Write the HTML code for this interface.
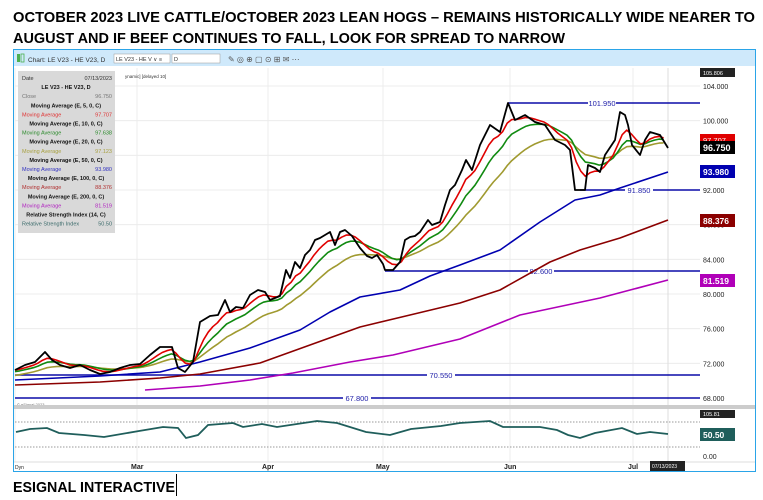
<!DOCTYPE html>
<html><head><meta charset="utf-8"><style>body{margin:0;background:#fff}svg{display:block}</style></head><body>
<svg id="s" width="763" height="500" xmlns="http://www.w3.org/2000/svg" font-family="Liberation Sans, sans-serif">
<rect width="763" height="500" fill="#fff"/>
<text x="13" y="22" font-size="15" font-weight="bold" textLength="742" lengthAdjust="spacingAndGlyphs">OCTOBER 2023 LIVE CATTLE/OCTOBER 2023 LEAN HOGS –  REMAINS HISTORICALLY WIDE  NEARER TO</text>
<text x="13" y="43" font-size="15" font-weight="bold" textLength="552" lengthAdjust="spacingAndGlyphs">AUGUST AND IF BEEF CONTINUES TO FALL, LOOK FOR SPREAD TO NARROW</text>
<text x="13" y="492" font-size="15" font-weight="bold" textLength="162" lengthAdjust="spacingAndGlyphs">ESIGNAL INTERACTIVE</text>
<line x1="176.5" y1="474" x2="176.5" y2="496" stroke="#000"/>
<!-- frame -->
<rect x="13.5" y="49.5" width="742" height="422" fill="#fff" stroke="#2aa4e8"/>
<rect x="14" y="50" width="741" height="16" fill="#cfe9fb"/>
<rect x="17" y="54" width="3" height="8" fill="#4caf50"/><rect x="21" y="54" width="3" height="8" fill="none" stroke="#4caf50" stroke-width="0.8"/>
<text x="28" y="62" font-size="6.5" fill="#333">Chart: LE V23 - HE V23, D</text>
<rect x="114" y="54" width="56" height="9" fill="#fff" stroke="#999" stroke-width="0.5"/>
<text x="116" y="61" font-size="5.5" fill="#333">LE V23 - HE V ∨ ≡</text>
<rect x="172" y="54" width="48" height="9" fill="#fff" stroke="#999" stroke-width="0.5"/>
<text x="174" y="61" font-size="5.5" fill="#333">D</text>
<text x="228" y="62" font-size="8" fill="#555">✎ ◎ ⊕ ▢ ⊙ ⊞ ✉ ⋯</text>
<!-- grid -->
<g stroke="#ececec" stroke-width="1" id="grid"></g>
<g stroke="#ddd"><line x1="668" y1="68" x2="668" y2="462"/></g>
<!-- axis labels -->
<g font-size="7" fill="#222" id="ax"></g>
<rect x="700" y="68" width="35" height="9" fill="#222"/><text x="703" y="75" font-size="5.5" fill="#fff">105.806</text>
<!-- hlines -->
<g stroke="#0b0ba8" stroke-width="1.6">
<line x1="508" y1="103" x2="700" y2="103"/><line x1="580" y1="190" x2="700" y2="190"/>
<line x1="385" y1="271" x2="700" y2="271"/><line x1="15" y1="375" x2="700" y2="375"/><line x1="15" y1="398" x2="700" y2="398"/></g>
<g font-size="7.5" fill="#2222aa" text-anchor="middle">
<rect x="588" y="98" width="28" height="9" fill="#fff"/><text x="602" y="106">101.950</text>
<rect x="625" y="185" width="28" height="9" fill="#fff"/><text x="639" y="193">91.850</text>
<rect x="528" y="266" width="26" height="9" fill="#fff"/><text x="541" y="274">82.600</text>
<rect x="427" y="370" width="28" height="9" fill="#fff"/><text x="441" y="378">70.550</text>
<rect x="343" y="393" width="28" height="9" fill="#fff"/><text x="357" y="401">67.800</text></g>
<g fill="none" stroke-width="1.6" stroke-linejoin="round">
<polyline stroke="#b000b8" points="145,390 200,386 250,380 293,373 350,362 393,355 460,339 520,315 600,298 668,280"/>
<polyline stroke="#8b0000" points="15,385 100,382 160,378 200,374 260,363 310,345 360,327 410,315 460,303 500,290 550,262 580,250 620,238 668,220"/>
<polyline stroke="#0000b0" points="15,380 100,376 160,372 200,362 250,348 300,330 330,312 360,297 400,290 430,276 460,265 500,250 540,222 575,200 600,195 620,188 668,172"/>
<polyline id="ol" stroke="#a09a30"/><polyline id="gr" stroke="#108a10"/><polyline id="rd" stroke="#e00000"/>
<polyline id="bk" stroke="#000" stroke-width="1.8"/>
</g>
<!-- value labels -->
<rect x="700" y="134" width="35" height="11" fill="#e00000"/><text x="703" y="143" font-size="7.5" fill="#fff">97.707</text>
<rect x="700" y="141" width="35" height="13" fill="#000"/><text x="703" y="151" font-size="9" font-weight="bold" fill="#fff">96.750</text>
<rect x="700" y="165" width="35" height="13" fill="#0000b0"/><text x="703" y="175" font-size="8.5" font-weight="bold" fill="#fff">93.980</text>
<rect x="700" y="214" width="35" height="13" fill="#8b0000"/><text x="703" y="224" font-size="8.5" font-weight="bold" fill="#fff">88.376</text>
<rect x="700" y="274" width="35" height="13" fill="#b000b8"/><text x="703" y="284" font-size="8.5" font-weight="bold" fill="#fff">81.519</text>
<text x="17" y="406" font-size="4" fill="#777">© eSignal 2023</text>
<!-- RSI panel -->
<rect x="14" y="405" width="741" height="4" fill="#ccc"/>
<g stroke="#999" stroke-dasharray="1.5,1.5"><line x1="15" y1="422" x2="700" y2="422"/><line x1="15" y1="447" x2="700" y2="447"/></g>
<rect x="700" y="410" width="35" height="8" fill="#222"/><text x="703" y="416" font-size="5.5" fill="#fff">105.81</text>
<rect x="700" y="428" width="35" height="13" fill="#1f5e5b"/><text x="703" y="438" font-size="8.5" font-weight="bold" fill="#fff">50.50</text>
<text x="703" y="459" font-size="7" fill="#222">0.00</text>
<polyline fill="none" stroke="#1f5e5b" stroke-width="1.8" points="16,432 30,429 47,428 59,433 84,435 104,437 139,431 163,427 178,428 186,438 198,435 208,425 233,423 243,427 262,424 277,427 317,421 337,423 366,432 390,435 411,429 441,426 460,423 490,421 503,427 540,427 557,430 568,435 580,438 595,433 622,428 637,434 650,432 668,434"/>
<line x1="14" y1="462" x2="755" y2="462" stroke="#ddd"/>
<g font-size="7" font-weight="bold" fill="#222"><text x="15" y="469" font-size="5" font-weight="normal">Dyn</text>
<text x="131" y="469">Mar</text><text x="262" y="469">Apr</text><text x="376" y="469">May</text><text x="504" y="469">Jun</text><text x="628" y="469">Jul</text></g>
<rect x="650" y="461" width="35" height="10" fill="#222"/><text x="652" y="468" font-size="5" fill="#fff">07/13/2023</text>
<!-- tooltip -->
<rect x="18" y="71" width="97" height="162" fill="#d9d9d9"/>
<text x="125" y="78" font-size="4.5" fill="#333">ynamic] [delayed 10]</text>
<g font-size="5.5" id="tt"></g>
</svg>
<script>
var s=document.getElementById('s'),NS='http://www.w3.org/2000/svg';
function el(p,t,a,txt){var e=document.createElementNS(NS,t);for(var k in a)e.setAttribute(k,a[k]);if(txt)e.textContent=txt;document.getElementById(p).appendChild(e);}
function Y(v){return 398-(v-68)*8.667;}
[15,137,268,383,510,633].forEach(function(x){el('grid','line',{x1:x,y1:68,x2:x,y2:462});});
for(var v=68;v<=104;v+=4){var y=Y(v);el('grid','line',{x1:15,y1:y,x2:700,y2:y});
 if(v!=96)el('ax','text',{x:703,y:y+3},v.toFixed(3));}
var P=[[15,370],[25,365],[35,362],[45,352],[52,360],[60,365],[70,368],[80,365],[90,370],[100,374],[110,372],[120,368],[130,365],[140,364],[150,355],[160,347],[172,347],[178,368],[185,372],[193,362],[200,322],[210,316],[218,315],[225,300],[230,312],[236,307],[243,308],[250,295],[258,290],[265,292],[270,300],[275,298],[280,296],[286,270],[290,278],[295,262],[300,268],[305,255],[310,250],[315,240],[320,238],[325,235],[330,232],[335,245],[340,232],[345,230],[352,236],[360,248],[367,256],[372,258],[377,255],[383,264],[385,270],[393,270],[400,262],[405,240],[410,237],[415,236],[420,232],[428,220],[432,225],[440,222],[445,205],[450,190],[455,185],[462,170],[466,160],[472,170],[480,145],[490,125],[500,132],[508,103],[515,120],[525,115],[535,122],[545,125],[555,140],[565,145],[570,150],[575,190],[585,190],[588,165],[595,168],[600,172],[605,155],[615,140],[620,112],[625,115],[628,125],[632,145],[640,155],[645,140],[650,132],[660,135],[668,148]];
document.getElementById('bk').setAttribute('points',P.map(function(p){return p.join(',')}).join(' '));
function at(x){for(var i=1;i<P.length;i++)if(P[i][0]>=x){var a=P[i-1],b=P[i],t=(x-a[0])/(b[0]-a[0]);return a[1]+t*(b[1]-a[1]);}return P[P.length-1][1];}
function ema(id,n,init){var k=2/(n+1),e=init,pts=[];for(var x=15;x<=668.01;x+=4.6){e=e+k*(at(x)-e);pts.push(x.toFixed(1)+','+e.toFixed(1));}document.getElementById(id).setAttribute('points',pts.join(' '));}
ema('ol',20,376);ema('gr',10,372);ema('rd',5,370);
var T=[['Date','07/13/2023','#333','#333'],['C','LE V23 - HE V23, D'],['Close','96.750','#777','#777'],['C','Moving Average (E, 5, 0, C)'],['Moving Average','97.707','#e03030','#e03030'],['C','Moving Average (E, 10, 0, C)'],['Moving Average','97.638','#2a8a2a','#2a8a2a'],['C','Moving Average (E, 20, 0, C)'],['Moving Average','97.123','#a8a040','#a8a040'],['C','Moving Average (E, 50, 0, C)'],['Moving Average','93.980','#3030c0','#3030c0'],['C','Moving Average (E, 100, 0, C)'],['Moving Average','88.376','#b03030','#b03030'],['C','Moving Average (E, 200, 0, C)'],['Moving Average','81.519','#b020c0','#b020c0'],['C','Relative Strength Index (14, C)'],['Relative Strength Index','50.50','#3a6a6a','#3a6a6a']];
T.forEach(function(r,i){var y=80+i*9.1;if(r[0]=='C')el('tt','text',{x:66,y:y,'text-anchor':'middle','font-weight':'bold',fill:'#111'},r[1]);else{el('tt','text',{x:22,y:y,fill:r[2]},r[0]);el('tt','text',{x:112,y:y,'text-anchor':'end',fill:r[3]},r[1]);}});
</script>
</body></html>
